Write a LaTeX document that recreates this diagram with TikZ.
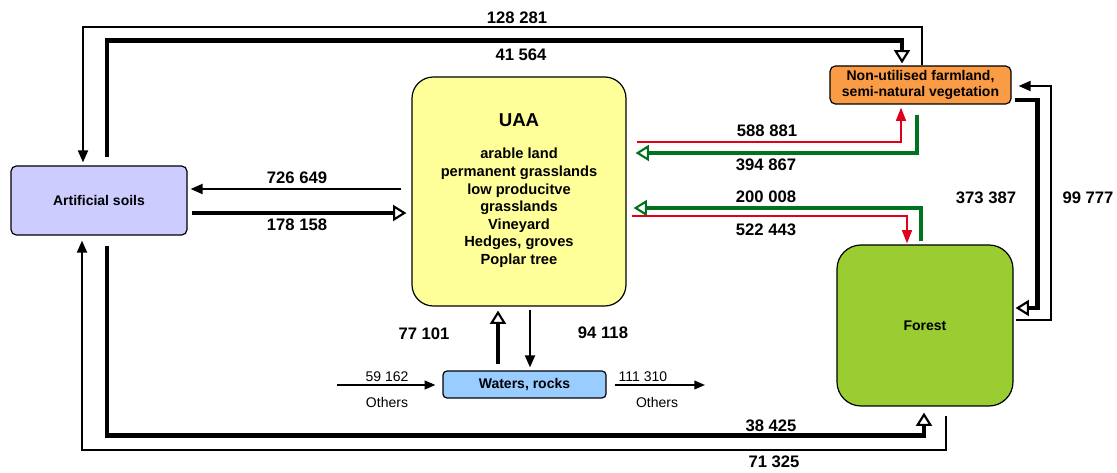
\documentclass[tikz,border=0pt]{standalone}
\usepackage{fontspec}
\setmainfont{Liberation Sans}
\usetikzlibrary{arrows.meta,calc}

\definecolor{artblue}{RGB}{204,204,255}
\definecolor{uaayellow}{RGB}{255,255,153}
\definecolor{nonuorange}{RGB}{250,155,70}
\definecolor{forestgreen}{RGB}{154,205,50}
\definecolor{waterblue}{RGB}{153,204,255}
\definecolor{flowred}{RGB}{225,0,25}
\definecolor{flowgreen}{RGB}{0,115,30}

\tikzset{
  box/.style={draw, line width=0.9pt, inner sep=0pt, align=center,
    font=\fontsize{10.5}{12.5}\selectfont\bfseries},
  num/.style={font=\fontsize{12.5}{14}\selectfont\bfseries},
  small/.style={font=\fontsize{10.5}{12}\selectfont},
  thinflow/.style={line width=1.5pt, -{Triangle[length=9pt,width=7.5pt]}},
  thickflow/.style={line width=3.2pt,
    -{Triangle[open,length=10pt,width=12pt,line width=1.6pt,fill=white]}},
  redflow/.style={draw=flowred, line width=1.2pt,
    -{Triangle[length=10pt,width=7.5pt]}},
  greenflow/.style={draw=flowgreen, line width=3.2pt,
    -{Triangle[open,length=10pt,width=12pt,line width=1.6pt,fill=white]}},
}

\begin{document}
\begin{tikzpicture}[x=0.75pt,y=-0.75pt]
    \useasboundingbox (0,0) rectangle (1117,473);

    % land use boxes
    \node[box, fill=artblue, minimum width=132pt, minimum height=51.75pt, rounded corners=4pt] (art) at (99,200.5) {Artificial soils};
    \node[box, fill=uaayellow, minimum width=160.5pt, minimum height=171.75pt, rounded corners=16pt] (uaa) at (519,191.5) {};
    \node[font=\fontsize{14}{16}\selectfont\bfseries] (uaatitle) at (519,120) {UAA};
    \node[align=center, font=\fontsize{11}{13.2}\selectfont\bfseries] (uaabody) at (519,208) {arable land\\permanent grasslands\\low producitve\\grasslands\\Vineyard\\Hedges, groves\\Poplar tree};
    \node[box, fill=nonuorange, minimum width=135.75pt, minimum height=28.5pt, rounded corners=4pt] (nonu) at (920.5,85) {Non-utilised farmland,\\semi-natural vegetation};
    \node[box, fill=forestgreen, minimum width=132pt, minimum height=120.75pt, rounded corners=18pt] (forest) at (925,325.5) {Forest};
    \node[box, fill=waterblue, minimum width=122.25pt, minimum height=20.25pt, rounded corners=3pt] (waters) at (524.5,384.5) {Waters, rocks};

    \coordinate (othersin) at (337,385);
    \coordinate (othersout) at (705,385);

    % flows around the outside
    \draw[thinflow] ($(nonu.north)+(1.5,0)$) -- ++(0,-38) -| ($(art.north)+(-16,-3)$);
    \draw[thickflow] ($(art.north)+(8,-8)$) -- ++(0,-117) -| ($(nonu.north)+(-18.5,-2)$);
    \draw[thickflow] ($(art.south)+(8,10)$) -- ++(0,190) -| ($(forest.south)+(-1,6)$);
    \draw[thinflow] ($(forest.south)+(21,9)$) -- ++(0,34) -| ($(art.south)+(-17,5)$);

    % flows between artificial soils and UAA
    \draw[thinflow] ($(uaa.west)+(-10,-2.5)$) -- ($(art.east)+(3,-11.5)$);
    \draw[thickflow] ($(art.east)+(4,12.5)$) -- ($(uaa.west)+(-5,21.5)$);

    % flows from UAA to the right
    \draw[redflow] ($(uaa.east)+(10,-49.5)$) -| ($(nonu.south)+(-19.5,3)$);
    \draw[greenflow] ($(nonu.south)+(-3.5,10)$) |- ($(uaa.east)+(9,-38.5)$);
    \draw[greenflow] ($(forest.north)+(-4,-3)$) |- ($(uaa.east)+(7,16.5)$);
    \draw[redflow] ($(uaa.east)+(5,24.5)$) -| ($(forest.north)+(-18,-1)$);

    % between forest and non-utilised farmland
    \draw[thickflow] ($(nonu.east)+(3,15)$) -- ++(23,0) |- ($(forest.east)+(2,-17.5)$);
    \draw[thinflow] ($(forest.east)+(2,-5.5)$) -- ++(35,0) |- ($(nonu.east)+(7,1)$);

    % waters and rocks
    \draw[thickflow] ($(waters.north)+(-26.5,-6)$) -- ($(uaa.south)+(-21,4)$);
    \draw[thinflow] ($(uaa.south)+(11,3)$) -- ($(waters.north)+(5.5,-3)$);
    \draw[line width=1.2pt, -{Triangle[length=8pt,width=6.5pt]}] (othersin) -- ($(waters.west)+(-7,0.5)$);
    \draw[line width=1.2pt, -{Triangle[length=8pt,width=6.5pt]}] ($(waters.east)+(8,0.5)$) -- (othersout);

    % figures
    \node[num] (n128) at (517,18) {128 281};
    \node[num] (n41) at (521,55) {41 564};
    \node[num] (n726) at (297,178) {726 649};
    \node[num] (n178) at (297,225) {178 158};
    \node[num] (n588) at (767,131) {588 881};
    \node[num] (n394) at (766,165) {394 867};
    \node[num] (n200) at (766,197) {200 008};
    \node[num] (n522) at (766,230) {522 443};
    \node[num] (n373) at (986,198) {373 387};
    \node[num] (n99) at (1088,198) {99 777};
    \node[num] (n77) at (424,334) {77 101};
    \node[num] (n94) at (603,333) {94 118};
    \node[num] (n38) at (771,426) {38 425};
    \node[num] (n71) at (774,462) {71 325};
    \node[small] (n59) at (387,377) {59 162};
    \node[small] (othleft) at (387,402) {Others};
    \node[small] (n111) at (643,377) {111 310};
    \node[small] (othright) at (657,402) {Others};
\end{tikzpicture}
\end{document}
